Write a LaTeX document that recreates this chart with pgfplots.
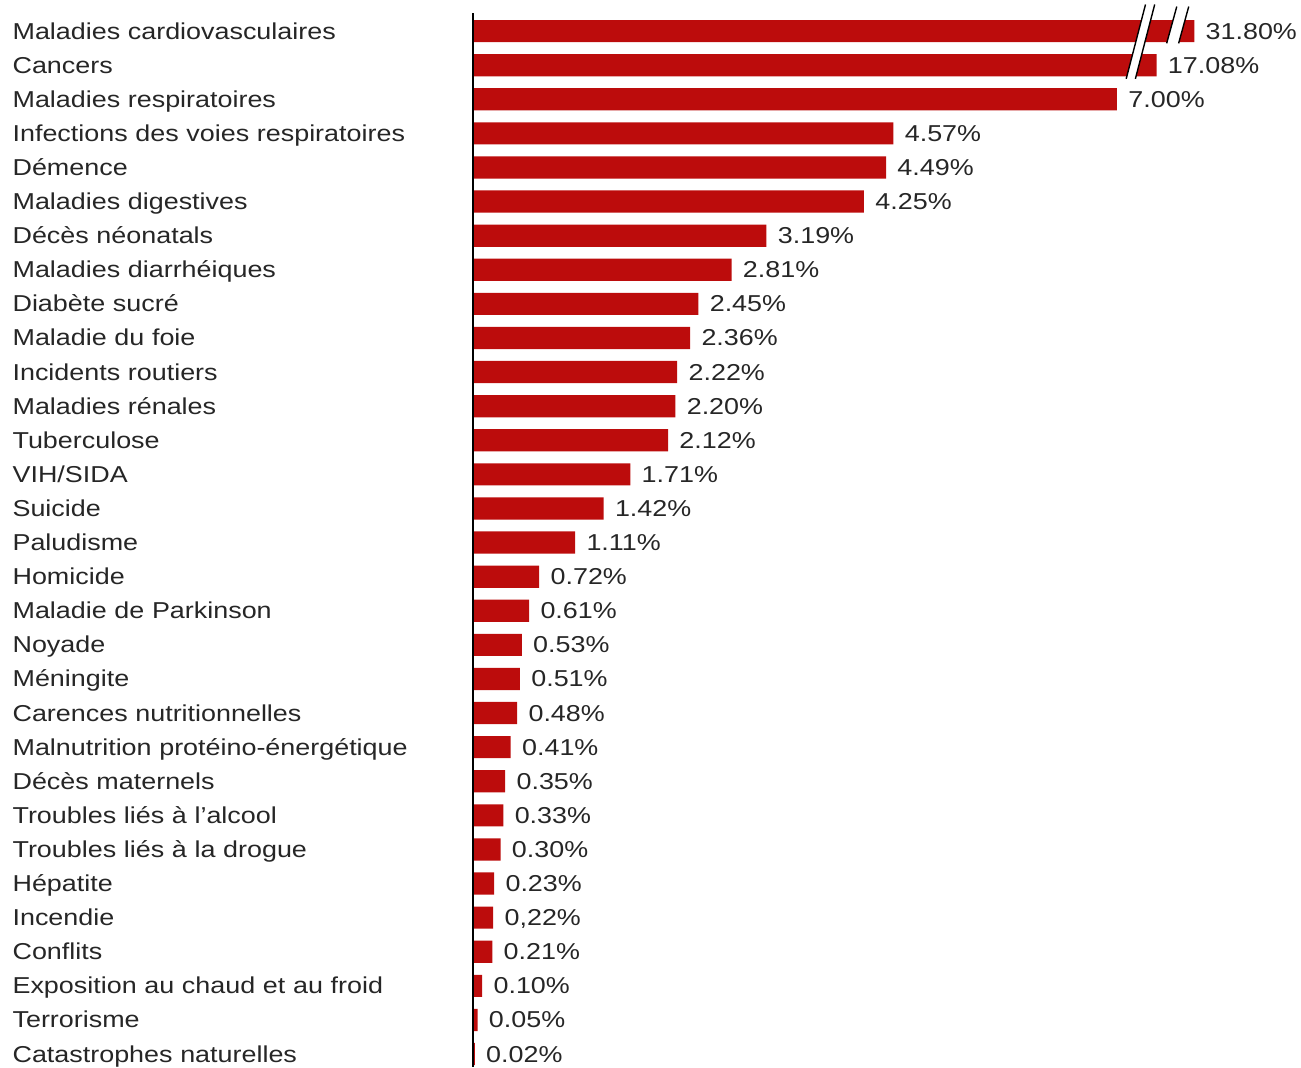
\documentclass[border=0pt]{standalone}
\usepackage{fontspec}
\setmainfont[FakeStretch=1.17]{Liberation Sans}
\usepackage{pgfplots}
\pgfplotsset{compat=1.18}
\usepackage{pgfplotstable}
\definecolor{barred}{RGB}{188,12,12}

% disp = drawn length (axis is broken for the two largest), lab = value shown
\pgfplotstableread{
y disp lab
0 7.84 31.80
1 7.43 17.08
2 7.00 7.00
3 4.57 4.57
4 4.49 4.49
5 4.25 4.25
6 3.19 3.19
7 2.81 2.81
8 2.45 2.45
9 2.36 2.36
10 2.22 2.22
11 2.20 2.20
12 2.12 2.12
13 1.71 1.71
14 1.42 1.42
15 1.11 1.11
16 0.72 0.72
17 0.61 0.61
18 0.53 0.53
19 0.51 0.51
20 0.48 0.48
21 0.41 0.41
22 0.35 0.35
23 0.33 0.33
24 0.30 0.30
25 0.23 0.23
26 0.22 0,22
27 0.21 0.21
28 0.10 0.10
29 0.05 0.05
30 0.02 0.02
}\data

\begin{document}
\begin{tikzpicture}
\begin{axis}[
  xbar, bar width=0.65,
  width=414pt, height=527pt, scale only axis,
  xmin=0, xmax=9, ymin=-0.53, ymax=30.38, y dir=reverse,
  hide x axis,
  axis y line*=left,
  y axis line style={black, line width=1pt, -},
  axis on top,
  clip=false,
  ytick={0,...,30},
  yticklabels={Maladies cardiovasculaires,Cancers,Maladies respiratoires,Infections des voies respiratoires,Démence,Maladies digestives,Décès néonatals,Maladies diarrhéiques,Diabète sucré,Maladie du foie,Incidents routiers,Maladies rénales,Tuberculose,VIH/SIDA,Suicide,Paludisme,Homicide,Maladie de Parkinson,Noyade,Méningite,Carences nutritionnelles,Malnutrition protéino-énergétique,Décès maternels,Troubles liés à l'alcool,Troubles liés à la drogue,Hépatite,Incendie,Conflits,Exposition au chaud et au froid,Terrorisme,Catastrophes naturelles},
  major tick length=0pt,
  yticklabel style={anchor=east, text width=230pt, align=left, inner sep=0pt, text height=9.7pt, text depth=1.7pt, font=\fontsize{11.5}{13}\selectfont, text=black!85},
  point meta=explicit symbolic,
  nodes near coords={\pgfplotspointmeta\%},
  nodes near coords style={anchor=west, inner sep=0pt, text height=9.7pt, text depth=1.7pt, xshift=5.5pt, font=\fontsize{11.5}{13}\selectfont, text=black!85},
]
\addplot[fill=barred, draw=none] table[x=disp, y=y, meta=lab] {\data};
% axis break marks
\fill[white] (axis cs:7.10,1.40) -- (axis cs:7.20,1.40) -- (axis cs:7.41,-0.78) -- (axis cs:7.31,-0.78) -- cycle;
\draw[black, line width=0.7pt] (axis cs:7.10,1.40) -- (axis cs:7.31,-0.78);
\draw[black, line width=0.7pt] (axis cs:7.20,1.40) -- (axis cs:7.41,-0.78);
\fill[white] (axis cs:7.54,0.36) -- (axis cs:7.67,0.36) -- (axis cs:7.78,-0.72) -- (axis cs:7.65,-0.72) -- cycle;
\draw[black, line width=0.7pt] (axis cs:7.54,0.36) -- (axis cs:7.65,-0.72);
\draw[black, line width=0.7pt] (axis cs:7.67,0.36) -- (axis cs:7.78,-0.72);
\end{axis}
\pgfresetboundingbox
\path[use as bounding box] (-236.5pt,0pt) rectangle (414pt,533.5pt);
\end{tikzpicture}
\end{document}
